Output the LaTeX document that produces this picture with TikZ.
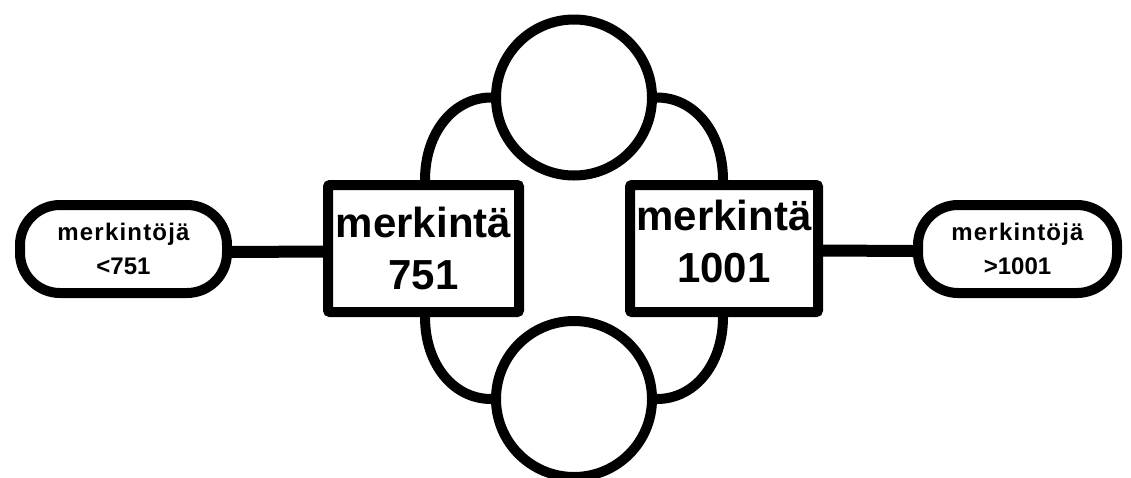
\documentclass[tikz,border=0pt]{standalone}
\usepackage{fontspec}
\setmainfont{Liberation Sans Bold}
\begin{document}
\begin{tikzpicture}[x=1pt,y=-1pt,
  pill/.style={draw=black,line width=10pt,fill=white,rounded corners=40pt,
    align=center,font=\fontsize{24}{34}\selectfont,inner sep=0pt,
    minimum height=88pt},
  markbox/.style={draw=black,line width=10pt,fill=white,rounded corners=2pt,
    align=center,font=\fontsize{42}{52}\selectfont,inner sep=0pt,
    minimum height=127pt},
  ring/.style={draw=black,line width=10pt,fill=white,circle,inner sep=0pt,
    minimum size=156pt},
  link/.style={draw=black,line width=12pt},
  arcline/.style={draw=black,line width=10pt}]
\useasboundingbox (0,0) rectangle (1131,477);
\clip (0,0) rectangle (1131,477);
\fill[white] (0,0) rectangle (1131,477);
\node[ring] (tc) at (574,97.5) {};
\node[ring] (bc) at (574,399) {};
\node[markbox,minimum width=191pt] (lb) at (423.5,248.5) {merkintä\\751};
\node[markbox,minimum width=188pt,text depth=14pt] (rb) at (724,248.5) {merkintä\\1001};
\node[pill,minimum width=207pt] (lp) at (123.5,249) {{\addfontfeature{LetterSpace=5}merkintöjä}\\{}<751};
\node[pill,minimum width=199pt] (rp) at (1017.5,249) {{\addfontfeature{LetterSpace=5}merkintöjä}\\{}>1001};
\draw[link] ([yshift=-3pt]lp.east) -- ([yshift=-3pt]lb.west);
\draw[link] ([yshift=-2pt]rb.east) -- ([yshift=-2pt]rp.west);
\draw[arcline] ([xshift=1.5pt]lb.north) .. controls ([xshift=1.5pt,yshift=48pt]lb.north) and ([xshift=-37pt]tc.west) .. (tc.west);
\draw[arcline] ([xshift=-1pt]rb.north) .. controls ([xshift=-1pt,yshift=48pt]rb.north) and ([xshift=37pt]tc.east) .. (tc.east);
\draw[arcline] ([xshift=1.5pt]lb.south) .. controls ([xshift=1.5pt,yshift=-48pt]lb.south) and ([xshift=-37pt]bc.west) .. (bc.west);
\draw[arcline] ([xshift=-1pt]rb.south) .. controls ([xshift=-1pt,yshift=-48pt]rb.south) and ([xshift=37pt]bc.east) .. (bc.east);
\end{tikzpicture}
\end{document}
